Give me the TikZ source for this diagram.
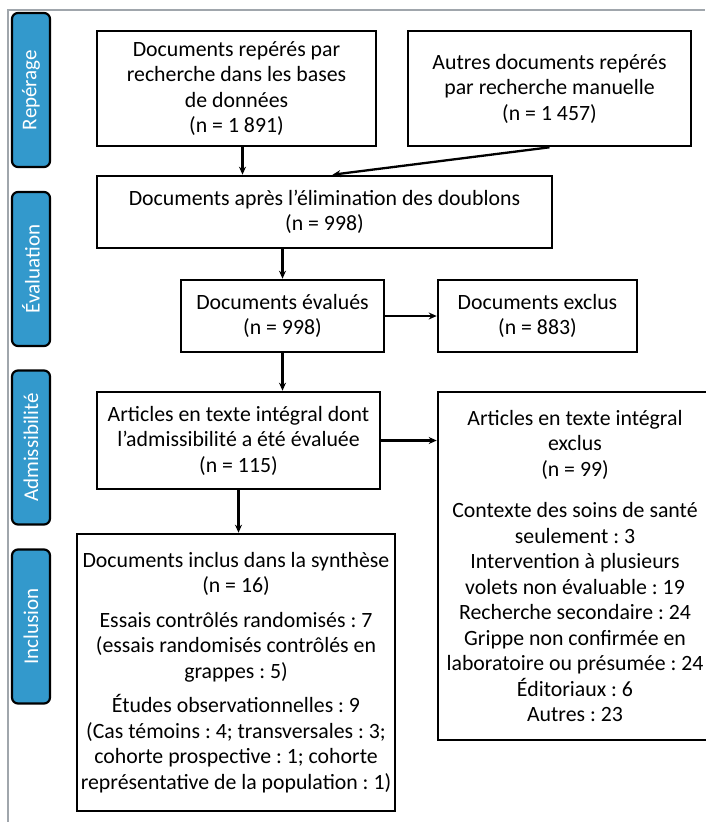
\documentclass[tikz,border=0pt]{standalone}
\usepackage{fontspec}
\setmainfont{Carlito}
\usetikzlibrary{arrows.meta, calc}
\definecolor{phaseblue}{RGB}{51, 153, 204}
\definecolor{framegray}{RGB}{160, 166, 172}
\frenchspacing

\begin{document}
\begin{tikzpicture}[x=1pt, y=-1pt,
  box/.style={draw, line width=2.6pt, align=center, inner sep=2pt,
              font=\fontsize{21.8}{25.5}\selectfont},
  phase/.style={draw, line width=2.2pt, rounded corners=6pt, fill=phaseblue,
                text=white, rotate=90, minimum width=154pt, minimum height=38pt,
                inner sep=0pt, font=\fontsize{21}{24}\selectfont},
  arr/.style={line width=2.3pt, -{Stealth[length=8pt, width=7pt]}},
]
\useasboundingbox (0,0) rectangle (705,822);

% Frame
\draw[framegray, line width=1.6pt] (8,822) -- (8,10) -- (705,10);

% Phase labels
\node[phase] (reperage) at (31, 90) {Repérage};
\node[phase] (evaluation) at (31, 269) {Évaluation};
\node[phase] (admiss) at (31, 447.5) {Admissibilité};
\node[phase] (inclusion) at (31, 626.5) {Inclusion};

% Boxes
\node[box, minimum width=279, minimum height=115] (src1) at (236.5, 88.5)
  {Documents repérés par\\recherche dans les bases\\de données\\(n = 1 891)};
\node[box, minimum width=283, minimum height=115] (src2) at (549.5, 88.5)
  {Autres documents repérés\\par recherche manuelle\\(n = 1 457)};
\node[box, minimum width=455, minimum height=72] (dedup) at (324.5, 212)
  {Documents après l’élimination des doublons\\(n = 998)};
\node[box, minimum width=203, minimum height=72] (eval) at (282.5, 316)
  {Documents évalués\\(n = 998)};
\node[box, minimum width=199, minimum height=72] (excl1) at (537.5, 316)
  {Documents exclus\\(n = 883)};
\node[box, minimum width=283, minimum height=97] (fulltext) at (238.5, 440.5)
  {Articles en texte intégral dont\\l’admissibilité a été évaluée\\(n = 115)};
\node[box, minimum width=274, minimum height=348] (excl2) at (575, 566)
  {Articles en texte intégral\\exclus\\(n = 99)\\[16pt]
   Contexte des soins de santé\\seulement : 3\\Intervention à plusieurs\\
   volets non évaluable : 19\\Recherche secondaire : 24\\Grippe non confirmée en\\
   laboratoire ou présumée : 24\\Éditoriaux : 6\\Autres : 23};
\node[box, minimum width=318, minimum height=277] (incl) at (236, 672.5)
  {Documents inclus dans la synthèse\\(n = 16)\\[9pt]
   Essais contrôlés randomisés : 7\\(essais randomisés contrôlés en\\grappes : 5)\\[9pt]
   Études observationnelles : 9\\(Cas témoins : 4; transversales : 3;\\
   cohorte prospective : 1; cohorte\\représentative de la population : 1)};

% Arrows
\draw[arr] ([xshift=6pt]src1.south) -- ([xshift=6pt]src1.south |- dedup.north);
\draw[arr] (src2.south) -- ([xshift=8pt]dedup.north);
\draw[arr] (eval.north |- dedup.south) -- (eval.north);
\draw[arr] (eval) -- (excl1);
\draw[arr] (eval.south) -- (eval.south |- fulltext.north);
\draw[arr] (fulltext.east) -- (fulltext.east -| excl2.west);
\draw[arr] (fulltext.south) -- (fulltext.south |- incl.north);
\end{tikzpicture}
\end{document}
